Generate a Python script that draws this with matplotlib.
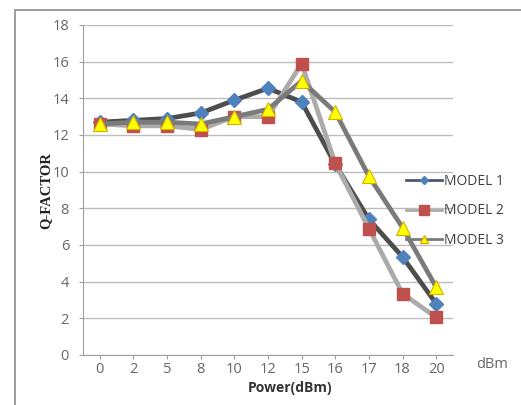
import matplotlib
matplotlib.use("Agg")
import matplotlib.pyplot as plt
from matplotlib.lines import Line2D
from matplotlib.patches import Rectangle

categories = ["0", "2", "5", "8", "10", "12", "15", "16", "17", "18", "20"]
model1 = [12.7, 12.8, 12.9, 13.2, 13.9, 14.55, 13.8, 10.4, 7.4, 5.35, 2.8]
model2 = [12.6, 12.5, 12.5, 12.3, 13.0, 13.0, 15.9, 10.45, 6.9, 3.35, 2.05]
model3 = [12.6, 12.7, 12.7, 12.6, 13.0, 13.4, 14.95, 13.25, 9.75, 6.95, 3.7]
yticks = [0, 2, 4, 6, 8, 10, 12, 14, 16, 18]

fig = plt.figure(figsize=(5.21, 4.05), dpi=100)
fig.patch.set_facecolor("white")
# outer frame
fig.add_artist(Rectangle((15/521, -0.05), 1.2, 1 - 10/405 + 0.05, transform=fig.transFigure,
                         fill=False, edgecolor="#8a8a8a", linewidth=1.2))

ax = fig.add_axes([83/521, 1 - 355/405, 370/521, 330/405])
x = list(range(len(categories)))

ax.plot(x, model1, color="#4D4D4D", lw=3.4, marker="D", ms=7, mfc="#4F81BD",
        mec="#4F81BD", label="MODEL 1", zorder=3)
ax.plot(x, model2, color="#ABABAB", lw=3.4, marker="s", ms=9, mfc="#C0504D",
        mec="#C0504D", label="MODEL 2", zorder=3)
ax.plot(x, model3, color="#7A7A7A", lw=3.4, marker="^", ms=10, mfc="#FFFF00",
        mec="#D4B000", mew=0.8, label="MODEL 3", zorder=4)

ax.set_xlim(-0.5, len(categories) - 0.5)
ax.set_ylim(0, 18)
ax.set_yticks(yticks)
ax.set_xticks(x)
ax.set_xticklabels(categories)
ax.grid(axis="y", color="#BDBDBD", lw=1.0)
ax.set_axisbelow(True)
for s in ["top", "right"]:
    ax.spines[s].set_visible(False)
for s in ["left", "bottom"]:
    ax.spines[s].set_color("#A0A0A0")
ax.tick_params(axis="both", colors="#A0A0A0", labelcolor="#666666", labelsize=10.5,
               length=3)
ax.tick_params(axis="y", pad=7)
ax.tick_params(axis="x", pad=2)
for lab in ax.get_xticklabels() + ax.get_yticklabels():
    lab.set_family("Open Sans")

fig.text(476/521, 1 - 357/405, "dBm", ha="left", va="top",
         fontsize=10.5, color="#666666", family="Open Sans")

fig.text(290/521, 1 - 388/405, "Power(dBm)", ha="center", va="center",
         fontsize=10, fontweight="bold", color="#333333", family="Open Sans")
fig.text(46/521, 1 - 191/405, "Q-FACTOR", ha="center", va="center", rotation=90,
         fontsize=10.5, fontweight="bold", color="#222222", family="Liberation Serif")

handles = [
    Line2D([], [], color="#4A5870", lw=2, marker="D", ms=4.5, mfc="#4F81BD", mec="#4F81BD"),
    Line2D([], [], color="#ABABAB", lw=2, marker="s", ms=7, mfc="#C0504D", mec="#C0504D"),
    Line2D([], [], color="#7A7A7A", lw=2, marker="^", ms=6, mfc="#FFFF00", mec="#D4B000"),
]
leg = fig.legend(handles, ["MODEL 1", "MODEL 2", "MODEL 3"], loc="center left",
                 bbox_to_anchor=(393/521, 1 - 211/405), frameon=False,
                 handlelength=2.6, labelspacing=1.05, handletextpad=0.2,
                 prop={"family": "Open Sans", "size": 10})
for t in leg.get_texts():
    t.set_color("#404040")

fig.savefig("out.png", dpi=100)
